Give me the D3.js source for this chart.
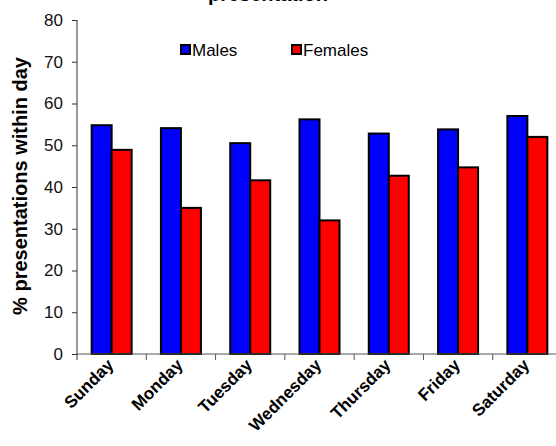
<!DOCTYPE html>
<html><head><meta charset="utf-8">
<script src="https://cdn.jsdelivr.net/npm/d3@7"></script>
<style>body{margin:0;background:#fff;overflow:hidden}svg{display:block;font-family:"Liberation Sans",Arial,sans-serif}</style>
</head><body><svg id="c" width="556" height="446"></svg>
<script>
const days = ["Sunday","Monday","Tuesday","Wednesday","Thursday","Friday","Saturday"];
const series = ["Males","Females"];
const males = [54.8, 54.1, 50.5, 56.2, 52.8, 53.8, 57.0];
const females = [48.9, 35.0, 41.6, 32.0, 42.7, 44.7, 52.0];
const yTicks = [0,10,20,30,40,50,60,70,80];
const colors = ["#0000ff","#ff0000"];

const svg = d3.select("#c");
const x0 = d3.scaleBand().domain(days).range([77, 562]).paddingInner(0).paddingOuter(0);
const bw = x0.bandwidth();
const x1 = d3.scaleBand().domain(series).range([bw/2 - 20, bw/2 + 20]);
const y = d3.scaleLinear().domain([0, 80]).range([354, 20]);
const color = d3.scaleOrdinal().domain(series).range(colors);

// title (cut off at top in the reference)
svg.append("text").attr("x", 268).attr("y", 1).attr("text-anchor","middle")
  .attr("font-weight","bold").attr("font-size", 20).text("presentation");

// bars
const data = days.map((d,i)=>({day:d, vals:[{k:"Males",v:males[i]},{k:"Females",v:females[i]}]}));
const g = svg.append("g");
g.selectAll("g.grp").data(data).join("g").attr("class","grp")
  .attr("transform", d=>`translate(${x0(d.day)},0)`)
  .selectAll("rect").data(d=>d.vals).join("rect")
  .attr("x", d=>x1(d.k)).attr("width", x1.bandwidth())
  .attr("y", d=>y(d.v)).attr("height", d=>y(0)-y(d.v))
  .attr("fill", d=>color(d.k)).attr("stroke","#000").attr("stroke-width",2);

// y axis
const yAxis = svg.append("g").attr("transform","translate(77,0)")
  .call(d3.axisLeft(y).tickValues(yTicks).tickSize(5).tickPadding(9).tickFormat(d3.format("d")));
yAxis.select(".domain").attr("stroke","#333").attr("d","M0,20V360");
yAxis.selectAll(".tick line").attr("stroke","#333");
yAxis.selectAll("text").attr("font-size",17).attr("fill","#111").attr("font-family","Liberation Sans, Arial, sans-serif");

// x axis
const xAxis = svg.append("g").attr("transform",`translate(0,${y(0)})`);
xAxis.append("line").attr("x1",77).attr("x2",562).attr("stroke","#555").attr("stroke-width",1);
xAxis.selectAll("line.tk").data(days.slice(1)).join("line").attr("class","tk")
  .attr("x1",d=>x0(d)).attr("x2",d=>x0(d)).attr("y1",0).attr("y2",6).attr("stroke","#555");
xAxis.selectAll("text").data(days).join("text")
  .attr("transform", d=>`translate(${x0(d)+bw/2+3},${12}) rotate(-45)`)
  .attr("text-anchor","end").attr("font-weight","bold").attr("font-size",17).text(d=>d);

// y title
svg.append("text").attr("transform","translate(27,186) rotate(-90)")
  .attr("text-anchor","middle").attr("font-weight","bold").attr("font-size",20)
  .text("% presentations within day");

// legend
const legX = [180, 291];
const leg = svg.selectAll("g.leg").data(series).join("g").attr("class","leg")
  .attr("transform",(d,i)=>`translate(${legX[i]},44)`);
leg.append("rect").attr("x",1).attr("y",1).attr("width",9).attr("height",9)
  .attr("fill",d=>color(d)).attr("stroke","#000").attr("stroke-width",2);
leg.append("text").attr("x",12).attr("y",12).attr("font-size",17).text(d=>d);
</script></body></html>
